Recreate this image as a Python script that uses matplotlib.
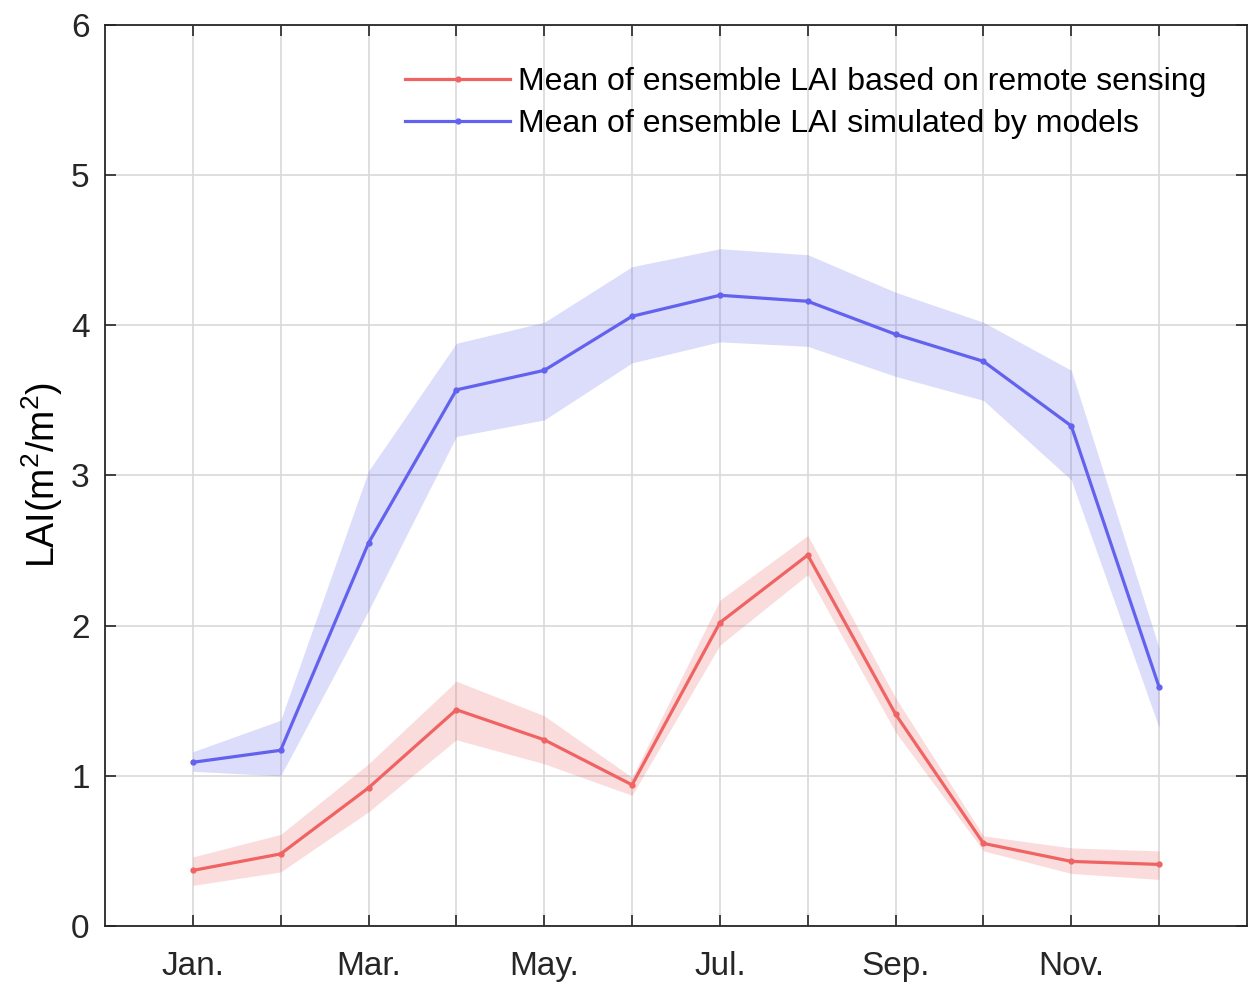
import numpy as np
import matplotlib
matplotlib.use("Agg")
import matplotlib.pyplot as plt

plt.rcParams["font.family"] = ["Liberation Sans", "DejaVu Sans"]
plt.rcParams["mathtext.fontset"] = "custom"
plt.rcParams["mathtext.rm"] = "Liberation Sans"
plt.rcParams["mathtext.it"] = "Liberation Sans:italic"

months = np.arange(1, 13)
month_labels = ["Jan.", "", "Mar.", "", "May.", "", "Jul.", "", "Sep.", "", "Nov.", ""]

# 遥感集合平均及范围
rs_mean = [0.37, 0.48, 0.92, 1.44, 1.24, 0.94, 2.02, 2.47, 1.41, 0.55, 0.43, 0.41]
rs_upper = [0.46, 0.61, 1.08, 1.63, 1.40, 0.99, 2.17, 2.60, 1.52, 0.60, 0.52, 0.50]
rs_lower = [0.27, 0.36, 0.76, 1.24, 1.08, 0.87, 1.87, 2.34, 1.29, 0.50, 0.35, 0.31]

# 模型集合平均及范围
md_mean = [1.09, 1.17, 2.55, 3.57, 3.70, 4.06, 4.20, 4.16, 3.94, 3.76, 3.33, 1.59]
md_upper = [1.16, 1.37, 3.03, 3.88, 4.02, 4.39, 4.51, 4.47, 4.22, 4.02, 3.70, 1.85]
md_lower = [1.03, 1.00, 2.10, 3.26, 3.37, 3.75, 3.89, 3.86, 3.66, 3.50, 2.97, 1.32]

red = "#F06363"
blue = "#6262EE"

fig = plt.figure(figsize=(12.48, 9.83), dpi=100)
ax = fig.add_axes([0.0841, 0.058, 0.9151, 0.9166])

ax.fill_between(months, rs_lower, rs_upper, color=red, alpha=0.22, linewidth=0)
ax.fill_between(months, md_lower, md_upper, color=blue, alpha=0.22, linewidth=0)
ax.plot(months, rs_mean, color=red, lw=2.3, marker="o", ms=3.5,
        label="Mean of ensemble LAI based on remote sensing")
ax.plot(months, md_mean, color=blue, lw=2.3, marker="o", ms=3.5,
        label="Mean of ensemble LAI simulated by models")

ax.set_xlim(0, 13)
ax.set_ylim(0, 6)
ax.set_xticks(months)
ax.set_xticklabels(month_labels)
ax.set_yticks(range(0, 7))
ax.grid(True, color="#d9d9d9", lw=1.2)
ax.set_axisbelow(True)
ax.tick_params(direction="in", length=8, width=1.2, labelsize=24,
               top=True, right=True, colors="#262626")
ax.tick_params(axis="x", pad=18)
ax.tick_params(axis="y", pad=11)
for s in ax.spines.values():
    s.set_color("#262626")
    s.set_linewidth(1.3)

ax.set_ylabel("LAI(m$^2$/m$^2$)", fontsize=27, labelpad=4)

ax.legend(loc="upper right", bbox_to_anchor=(0.99, 0.985), frameon=False,
          fontsize=23, handlelength=3.3, handletextpad=0.25, labelspacing=0.36)

fig.savefig("out.png", dpi=100)
